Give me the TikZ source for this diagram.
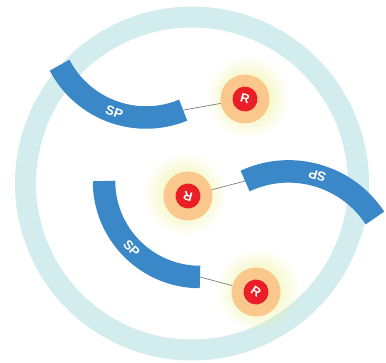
\documentclass[tikz,border=0pt]{standalone}
\usepackage{fontspec}
\setsansfont{Liberation Sans}
\usepackage{tikz}
\usetikzlibrary{calc,fadings}
\definecolor{ringteal}{RGB}{211,236,238}
\definecolor{spblue}{RGB}{58,136,199}
\definecolor{rorange}{RGB}{250,200,140}
\definecolor{rred}{RGB}{234,30,38}
\definecolor{glowyellow}{RGB}{236,242,150}
\definecolor{linkgrey}{RGB}{125,125,125}
\tikzfading[name=glowfade,inner color=transparent!0,outer color=transparent!100]
\tikzset{
  ring/.style={draw=ringteal,line width=21pt},
  spband/.style={draw=spblue,line width=22.5pt},
  splab/.style={text=white,inner sep=0pt,font=\sffamily\bfseries\fontsize{13}{13}\selectfont},
  link/.style={draw=linkgrey,line width=0.7pt},
  rshell/.style={circle,fill=rorange,minimum size=49pt,inner sep=0pt},
  rcore/.style={circle,fill=rred,minimum size=25pt,inner sep=0pt,text=white,
                font=\sffamily\bfseries\fontsize{12.5}{12.5}\selectfont},
  glow/.style={fill=glowyellow,path fading=glowfade},
}

\begin{document}
\begin{tikzpicture}[x=1pt,y=1pt]
  \path[use as bounding box] (0,0) rectangle (386,362);

  % membrane
  \coordinate (cell) at (192,178.5);
  \draw[ring] (cell) circle (166.5);

  % centres of the three bands
  \coordinate (sp1c) at (146,342);
  \coordinate (sp2c) at (200,181);
  \coordinate (sp3c) at (288.6,87.3);
  \coordinate (sp1end) at ($(sp1c)+(292.4:97.5)$);
  \coordinate (sp2end) at ($(sp2c)+(270:96)$);
  \coordinate (sp3end) at ($(sp3c)+(114.9:103.3)$);

  % glows
  \fill[glow] (248,265) circle (42);
  \fill[glow] (185,168) circle (42);
  \fill[glow] (258,72) circle (42);

  \node[rshell] (R1) at (245,263) {};
  \node[rshell] (R2) at (188,166) {};
  \node[rshell] (R3) at (256,70) {};
  \draw[link] (sp1end) -- (R1);
  \draw[link] (sp3end) -- (R2);
  \draw[link] (sp2end) -- (R3);

  \draw[spband] ($(sp1c)+(207.6:97.5)$) arc[start angle=207.6,end angle=292.4,radius=97.5];
  \draw[spband] ($(sp2c)+(180:96)$) arc[start angle=180,end angle=270,radius=96];
  \draw[spband] ($(sp3c)+(33.3:103.3)$) arc[start angle=33.3,end angle=114.9,radius=103.3];
  \node[splab,rotate=-19] (sp1lab) at ($(sp1c)+(251:97.5)$) {SP};
  \node[splab,rotate=-45] (sp2lab) at ($(sp2c)+(224.6:96)$) {SP};
  \node[splab,rotate=164] (sp3lab) at ($(sp3c)+(73.8:103.3)$) {SP};

  \node[rcore,rotate=-15] (r1core) at (R1) {R};
  \node[rcore,rotate=165] (r2core) at (R2) {R};
  \node[rcore,rotate=-35] (r3core) at (R3) {R};
\end{tikzpicture}
\end{document}
